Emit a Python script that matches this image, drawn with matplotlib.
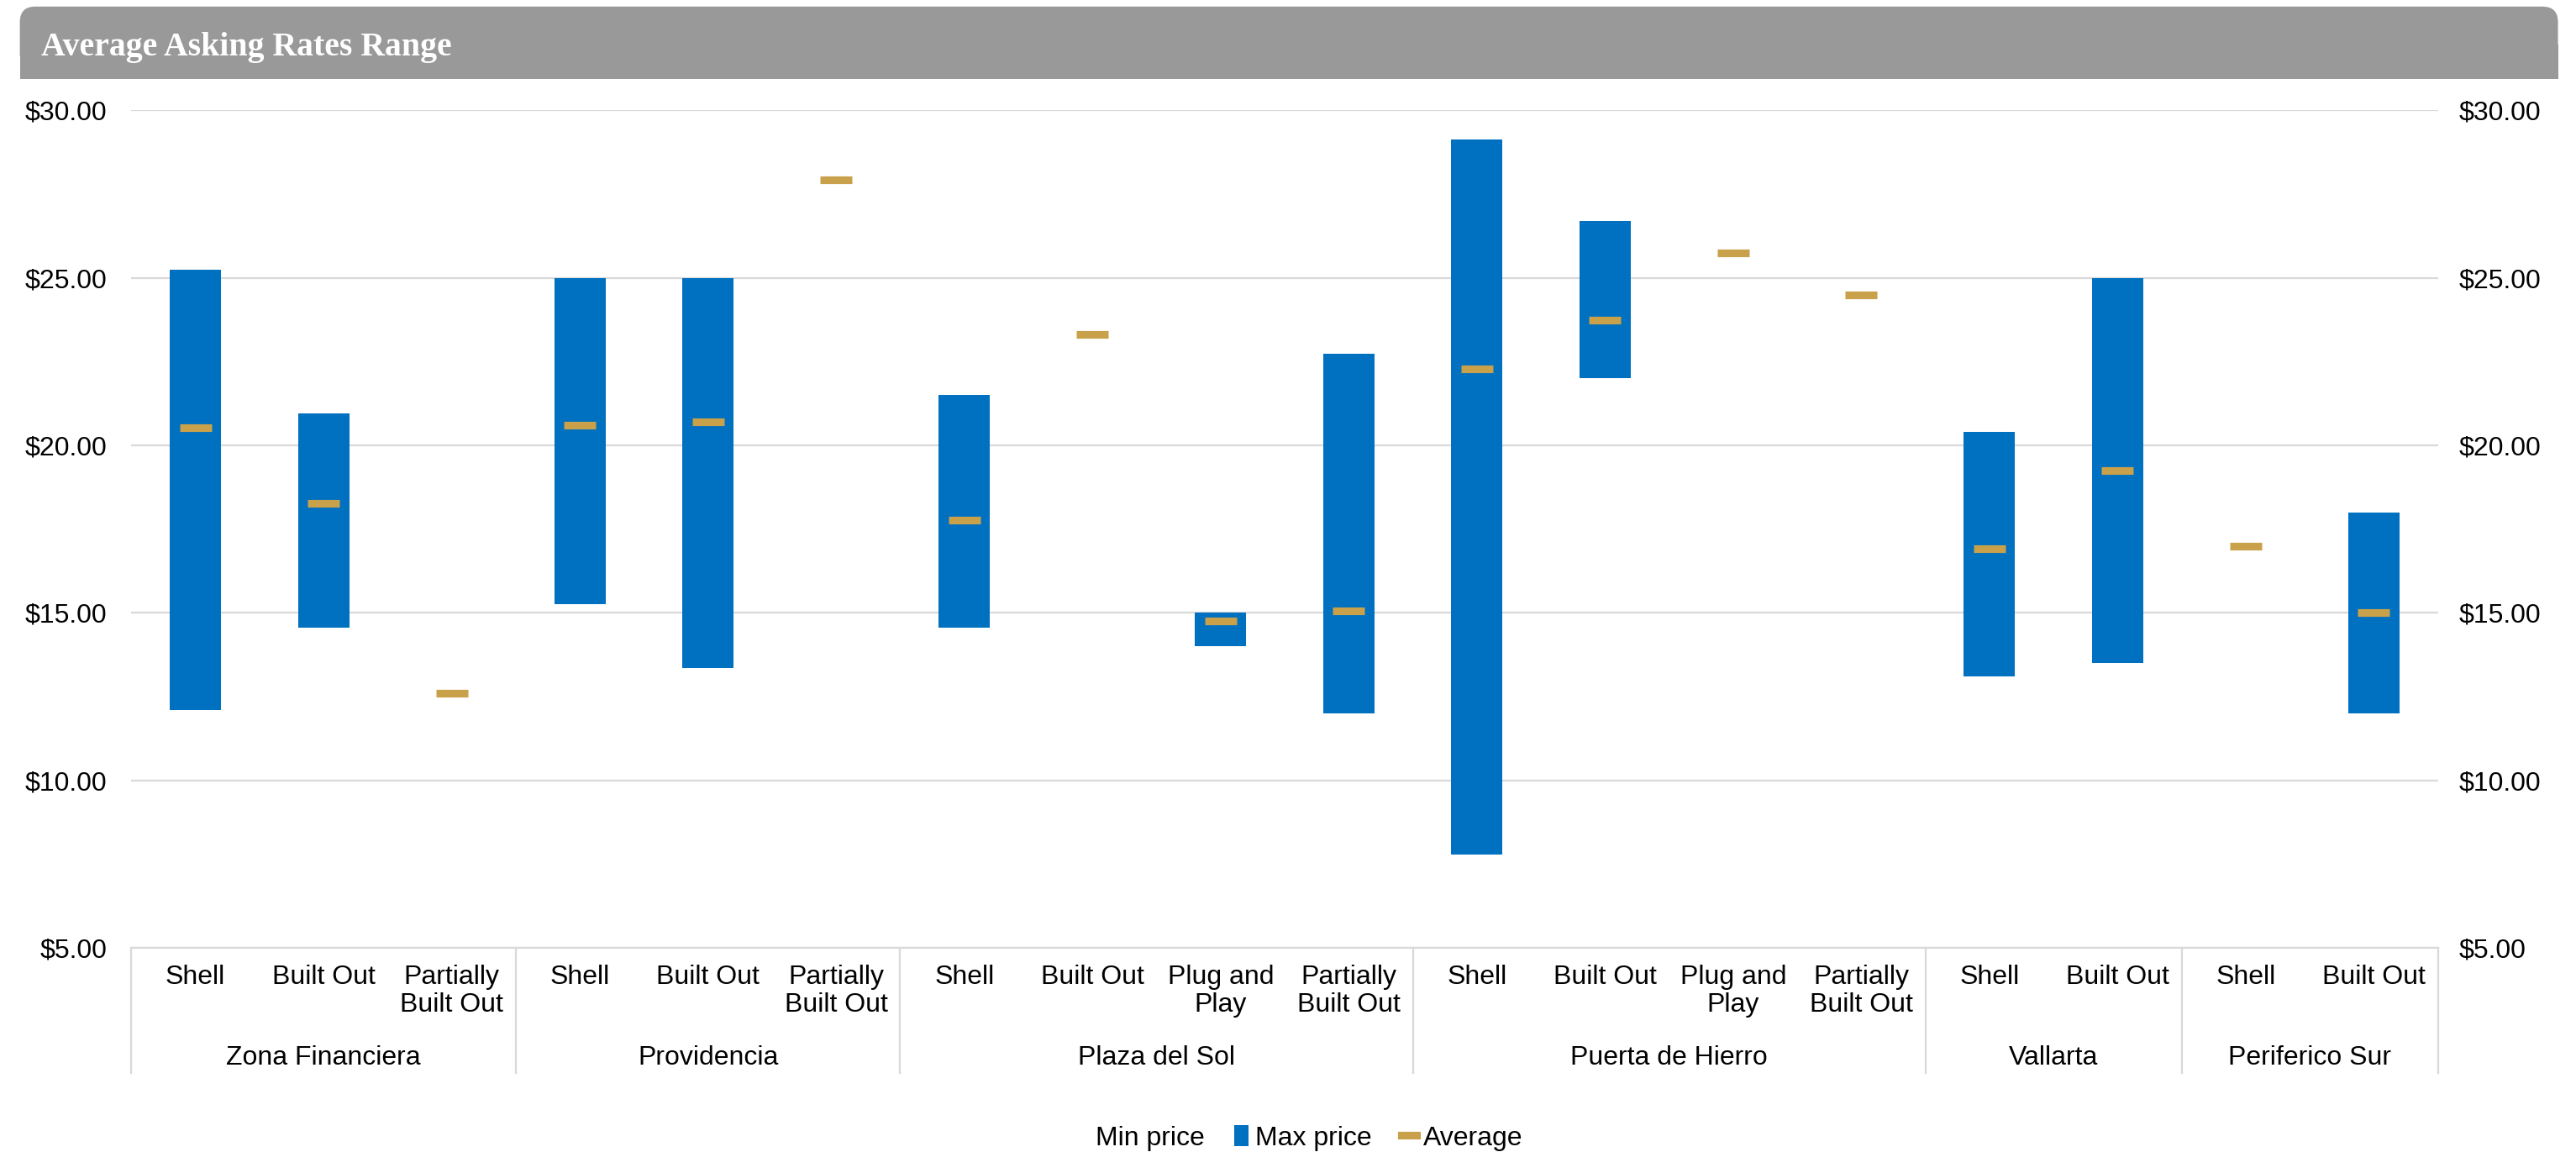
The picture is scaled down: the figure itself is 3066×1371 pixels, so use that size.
import numpy as np
import matplotlib
matplotlib.use("Agg")
import matplotlib.pyplot as plt
from matplotlib.patches import FancyBboxPatch, Rectangle, Patch
from matplotlib.lines import Line2D
from matplotlib.ticker import FuncFormatter

plt.rcParams['font.family'] = ['Liberation Sans', 'DejaVu Sans']

# ---------------- data ----------------
groups = ["Zona Financiera", "Providencia", "Plaza del Sol", "Puerta de Hierro", "Vallarta", "Periferico Sur"]
group_sizes = [3, 3, 4, 4, 2, 2]
subcategories = ["Shell", "Built Out", "Partially\nBuilt Out",
                 "Shell", "Built Out", "Partially\nBuilt Out",
                 "Shell", "Built Out", "Plug and\nPlay", "Partially\nBuilt Out",
                 "Shell", "Built Out", "Plug and\nPlay", "Partially\nBuilt Out",
                 "Shell", "Built Out",
                 "Shell", "Built Out"]
nan = np.nan
min_price = [12.10, 14.55, nan, 15.25, 13.35, nan, 14.55, nan, 14.00, 12.00, 7.80, 22.00, nan, nan, 13.10, 13.50, nan, 12.00]
max_price = [25.25, 20.95, nan, 25.00, 25.00, nan, 21.50, nan, 15.00, 22.72, 29.12, 26.70, nan, nan, 20.40, 25.00, nan, 18.00]
average   = [20.53, 18.26, 12.61, 20.61, 20.69, 27.91, 17.78, 23.31, 14.77, 15.05, 22.29, 23.74, 25.73, 24.48, 16.92, 19.24, 17.00, 15.00]
y_ticks = [5, 10, 15, 20, 25, 30]

BLUE = "#0070C0"
GOLD = "#C9A14A"
GRID = "#D9D9D9"
FS = 11.5

fig = plt.figure(figsize=(15.33, 6.855), dpi=200)
ax = fig.add_axes([0.051, 0.177, 0.8954, 0.7274])

x = np.arange(len(subcategories))
mn = np.array(min_price)
mx = np.array(max_price)
ax.bar(x, mx - mn, bottom=mn, width=0.4, color=BLUE, zorder=2)
ax.plot(x, average, linestyle='none', marker='_', ms=13.7, mew=3.3, color=GOLD, zorder=3)

ax.set_xlim(-0.5, len(subcategories) - 0.5)
ax.set_ylim(5, 30)
ax.set_yticks(y_ticks)
fmt = FuncFormatter(lambda v, p: f"${v:.2f}")
ax.yaxis.set_major_formatter(fmt)
ax.grid(axis='y', color=GRID, lw=0.8, zorder=0)
ax.set_axisbelow(True)
for s in ['top', 'left', 'right']:
    ax.spines[s].set_visible(False)
ax.spines['bottom'].set_color(GRID)
ax.spines['bottom'].set_linewidth(0.8)
ax.tick_params(axis='y', length=0, pad=10.5, labelsize=FS)
ax.set_xticks(x)
ax.set_xticklabels(subcategories, fontsize=FS, linespacing=1.15, va='top', multialignment='center')
ax.tick_params(axis='x', length=0, pad=7)

ax2 = ax.twinx()
ax2.set_ylim(ax.get_ylim())
ax2.set_yticks(y_ticks)
ax2.yaxis.set_major_formatter(fmt)
ax2.tick_params(axis='y', length=0, pad=9, labelsize=FS)
for s in ax2.spines.values():
    s.set_visible(False)

# group labels and separators
bounds = np.concatenate([[0], np.cumsum(group_sizes)]) - 0.5
for b in bounds:
    ax.plot([b, b], [0, -0.149], transform=ax.get_xaxis_transform(), color=GRID, lw=0.8, clip_on=False)
for g, lo, hi in zip(groups, bounds[:-1], bounds[1:]):
    ax.text((lo + hi) / 2, -0.131, g, transform=ax.get_xaxis_transform(), ha='center', va='center', fontsize=FS)

# legend
handles = [Patch(facecolor='none', edgecolor='none'),
           Patch(facecolor=BLUE, edgecolor='none'),
           Line2D([], [], color=GOLD, lw=3.3)]
fig.legend(handles, ["Min price", "Max price", "Average"], loc='center', bbox_to_anchor=(0.504, 0.012),
           ncol=3, frameon=False, fontsize=FS, handlelength=0.55, handleheight=0.8, handletextpad=0.25,
           columnspacing=1.1)

# title bar
bar = FancyBboxPatch((0.0077, 0.94), 0.9853, 0.0543, boxstyle="round,pad=0,rounding_size=0.006",
                     transform=fig.transFigure, facecolor="#999999", edgecolor='none', mutation_aspect=2.24)
fig.patches.append(bar)
fig.patches.append(Rectangle((0.0077, 0.9315), 0.9853, 0.03, transform=fig.transFigure,
                             facecolor="#999999", edgecolor='none'))
fig.text(0.016, 0.9586, "Average Asking Rates Range", color='white', fontsize=14.3, fontweight='bold',
         family=['Liberation Serif', 'DejaVu Serif'], va='center', ha='left')

fig.savefig("out.png", dpi=200)
